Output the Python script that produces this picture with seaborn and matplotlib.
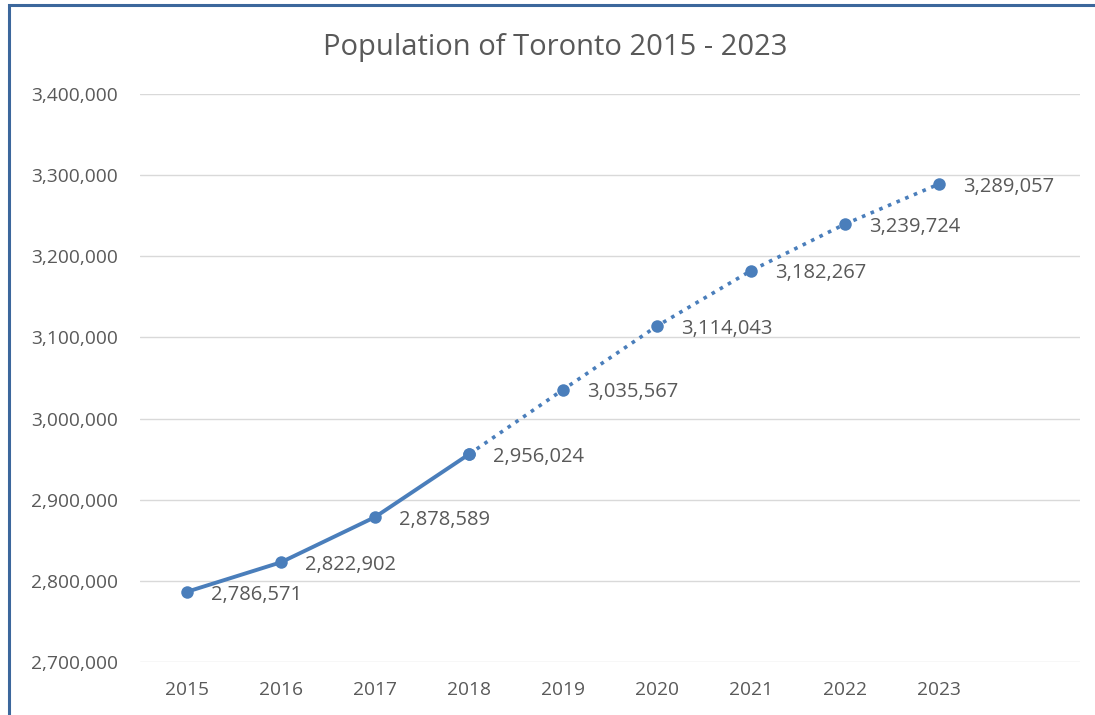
import matplotlib
matplotlib.use("Agg")
import matplotlib.pyplot as plt
import seaborn as sns
import pandas as pd
from matplotlib.ticker import FuncFormatter
from matplotlib.patches import Rectangle

years = ["2015", "2016", "2017", "2018", "2019", "2020", "2021", "2022", "2023"]
population = [2786571, 2822902, 2878589, 2956024, 3035567, 3114043, 3182267, 3239724, 3289057]
actual_count = 4  # 2015-2018 actual (solid), later projected (dotted)
title = "Population of Toronto 2015 - 2023"

sns.set_theme(style="white")
plt.rcParams['font.family'] = ['Open Sans', 'DejaVu Sans']

df = pd.DataFrame({"idx": range(len(years)), "year": years, "pop": population})
actual = df.iloc[:actual_count]
proj = df.iloc[actual_count - 1:]

W, H = 1095, 715
fig = plt.figure(figsize=(W / 100, H / 100), dpi=100)
ax = fig.add_axes([140 / W, 1 - 662 / H, (1080 - 140) / W, (662 - 94) / H])

color = "#4A7EBB"
sns.lineplot(data=actual, x="idx", y="pop", ax=ax, color=color, linewidth=2.8,
             marker="o", markersize=9, markeredgewidth=0)
sns.lineplot(data=proj, x="idx", y="pop", ax=ax, color=color, linewidth=2.6,
             linestyle=(0, (1, 1.6)), marker="o", markersize=9, markeredgewidth=0)

text_color = "#595959"
for i, v in zip(df["idx"], df["pop"]):
    ax.annotate(f"{v:,}", (i, v), xytext=(17, -2), textcoords="offset points",
                ha="left", va="center", fontsize=14.5, color=text_color)

ax.set_xlim(-0.5, 9.5)
ax.set_ylim(2700000, 3400000)
ax.set_yticks(range(2700000, 3400001, 100000))
ax.yaxis.set_major_formatter(FuncFormatter(lambda v, p: f"{int(v):,}"))
ax.set_xticks(range(len(years)))
ax.set_xticklabels(years)
ax.tick_params(axis="both", labelsize=13.8, colors=text_color, length=0)
ax.tick_params(axis="y", pad=16)
ax.tick_params(axis="x", pad=14)
ax.set_xlabel("")
ax.set_ylabel("")
ax.grid(axis="y", color="#D9D9D9", linewidth=1)
ax.set_axisbelow(True)
for s in ax.spines.values():
    s.set_visible(False)

fig.text(555 / W, 1 - 47 / H, title, ha="center", va="center", fontsize=21, color=text_color)

fig.patches.append(Rectangle((8.5 / W, -0.1), 1.2, 1 - 5 / H + 0.1, transform=fig.transFigure,
                             fill=False, edgecolor="#3C679C", linewidth=2.2))

fig.savefig("out.png", dpi=100)
